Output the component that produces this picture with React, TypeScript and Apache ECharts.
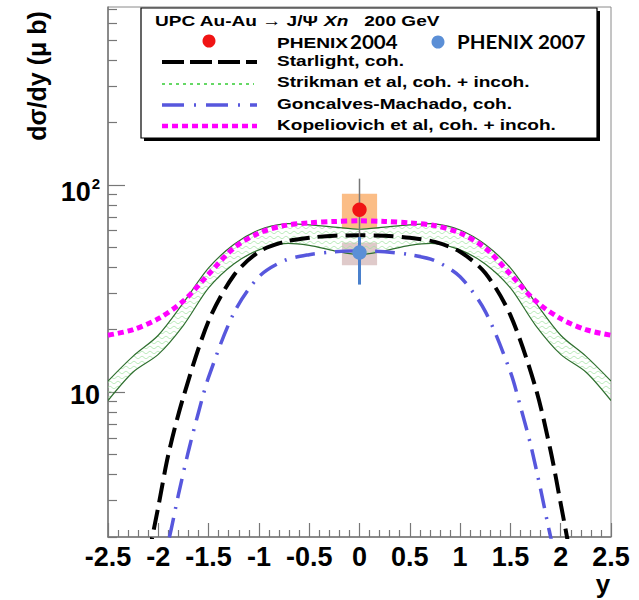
import React, { useEffect, useRef } from 'react';
import * as echarts from 'echarts';

// ---------- data ----------
const yMajorTicks = [10, 100];
const yMajorLabels = ['10', '10²'];
const yMinorTicks = [2, 3, 4, 5, 6, 7, 8, 9, 20, 30, 40, 50, 60, 70, 80, 90, 200, 300, 400, 500, 600, 700];

// Starlight, coh.
const starlightX = [-2.1, -2.0, -1.9, -1.75, -1.5, -1.25, -1.0, -0.75, -0.5, -0.25, 0, 0.25, 0.5, 0.75, 1.0, 1.25, 1.5, 1.75, 1.9, 2.0, 2.1];
const starlightY = [1.6, 2.8, 5.0, 9.5, 22, 36.5, 47.5, 53, 55.5, 56.8, 57, 56.8, 55.5, 53, 47.5, 37.5, 23.5, 10.5, 5.2, 2.9, 1.6];

// Goncalves-Machado, coh.
const goncX = [-2.0, -1.9, -1.8, -1.7, -1.6, -1.5, -1.25, -1.0, -0.75, -0.5, -0.25, 0, 0.25, 0.5, 0.75, 1.0, 1.25, 1.5, 1.6, 1.7, 1.8, 1.9, 2.0];
const goncY = [1.3, 1.9, 3.2, 5.2, 8.0, 11.8, 24, 36, 43, 46, 47.5, 48, 47.5, 46, 43, 36, 24.5, 12.5, 8.5, 5.6, 3.4, 2.0, 1.3];

// Kopeliovich et al, coh. + incoh.
const kopX = [-2.5, -2.25, -2.0, -1.75, -1.5, -1.25, -1.0, -0.75, -0.5, -0.25, 0, 0.25, 0.5, 0.75, 1.0, 1.25, 1.5, 1.75, 2.0, 2.25, 2.5];
const kopY = [18.8, 20.0, 22.6, 27.5, 37, 49.5, 58.5, 63.5, 65.5, 66.5, 67, 66.5, 65.5, 63.5, 58.5, 49.5, 37, 27.5, 22.6, 20.0, 18.8];

// Strikman et al, coh. + incoh. (band)
const bandX = [-2.5, -2.25, -2.0, -1.75, -1.5, -1.25, -1.0, -0.75, -0.5, -0.25, 0, 0.25, 0.5, 0.75, 1.0, 1.25, 1.5, 1.75, 2.0, 2.25, 2.5];
const bandUpper = [11.3, 14.9, 18.8, 27, 39.7, 51.5, 60.5, 64.8, 64, 62.5, 61, 62.5, 64, 64.8, 60.5, 51.5, 39.7, 27, 18.8, 14.9, 11.3];
const bandLower = [9.1, 12.5, 15.2, 21, 31.8, 41.5, 48.5, 52, 51, 48, 46, 48, 51, 52, 48.5, 41.5, 31.8, 21, 15.2, 12.5, 9.1];

// PHENIX data points
const expNames = ['PHENIX 2004', 'PHENIX 2007'];
const expX = [0, 0];
const expY = [75.8, 47.1];
const statLo = [52, 33];
const statHi = [107, 56];
const sysLo = [61.4, 40.9];
const sysHi = [90.6, 52.6];

// legend texts
const legendTitleA = 'UPC Au-Au → J/Ψ ';
const legendTitleB = 'Xn';
const legendTitleC = '   200 GeV';
const legendLines = ['Starlight, coh.', 'Strikman et al, coh. + incoh.', 'Goncalves-Machado, coh.', 'Kopeliovich et al, coh. + incoh.'];
const yTitle = 'dσ/dy (μ b)';
const xTitle = 'y';

// ---------- styles ----------
const AR = '"Liberation Sans", Arial, Helvetica, sans-serif';
const CAL = 'Lato, "Open Sans", sans-serif';
const AXC = '#777';
const pointColors = ['#f01414', '#5b8fd6'];
const barColors = ['#777777', '#4a80cc'];
const barWidths = [1.5, 3];
const boxColors = ['#fbbd86', '#dfcaca'];
const BOX_HW = 0.175;

export default function App() {
  const ref = useRef<HTMLDivElement>(null);
  useEffect(() => {
    const el = ref.current!;
    const chart = echarts.init(el, null, { renderer: 'svg' });

    const cv = document.createElement('canvas');
    cv.width = 8;
    cv.height = 5;
    const ctx = cv.getContext('2d')!;
    ctx.strokeStyle = '#9fe29f';
    ctx.lineWidth = 0.8;
    ctx.beginPath();
    for (let i = 0; i <= 16; i++) {
      const x = i * 0.5;
      const y = 2.5 + 1.1 * Math.sin((x / 8) * 2 * Math.PI);
      if (i === 0) ctx.moveTo(x, y);
      else ctx.lineTo(x, y);
    }
    ctx.stroke();
    const wave: any = { image: cv, repeat: 'repeat', imageWidth: 8, imageHeight: 5 };

    const legX = 277;
    const legYs = [61, 82, 104, 125];
    const lineYs = [62, 84, 105, 126];
    const txt = (text: string, x: number, y: number, extra: any = {}) => ({
      type: 'text',
      x,
      y,
      z: 102,
      scaleX: extra.scaleX ?? 1.23,
      style: {
        text,
        font: extra.font ?? `bold 15.5px ${AR}`,
        fill: '#000',
        align: 'left',
        verticalAlign: 'middle',
        textAlign: 'left',
        textVerticalAlign: 'middle',
        rich: extra.rich,
      },
    });

    const lab = { fontWeight: 'bold', fontFamily: AR, color: '#000' };

    const option: any = {
      animation: false,
      grid: { left: 108, right: 28, top: 7, bottom: 63, show: true, borderColor: '#8a8a8a', borderWidth: 1, outerBoundsMode: 'none' },
      xAxis: {
        type: 'value',
        min: -2.5,
        max: 2.5,
        interval: 0.5,
        axisLine: { show: true, onZero: false, lineStyle: { color: AXC, width: 1.5 } },
        axisTick: { show: true, inside: true, length: 14, lineStyle: { color: AXC, width: 1.2 } },
        minorTick: { show: true, splitNumber: 5, length: 7, lineStyle: { color: AXC, width: 1.2 } },
        splitLine: { show: false },
        axisLabel: { fontSize: 27, fontWeight: 'bold', fontFamily: AR, color: '#000', margin: 6 },
      },
      yAxis: [
        {
          type: 'log',
          logBase: 10,
          min: 2,
          max: 720,
          position: 'left',
          axisLine: { show: true, onZero: false, lineStyle: { color: AXC, width: 1.5 } },
          axisTick: { show: true, inside: true, length: 17, customValues: yMajorTicks, lineStyle: { color: AXC, width: 1.2 } },
          splitLine: { show: false },
          axisLabel: {
            customValues: yMajorTicks,
            margin: 8,
            formatter: (v: number) => {
              const idx = yMajorTicks.indexOf(Math.round(v));
              if (idx < 0) return '';
              const l = yMajorLabels[idx];
              if (l.endsWith('²')) return `{b|${l.slice(0, -1)}}{s|2}`;
              return `{c|${l}}`;
            },
            rich: {
              b: { ...lab, fontSize: 27, lineHeight: 27, padding: [15, 0, 0, 0] },
              s: { ...lab, fontSize: 15, lineHeight: 15, padding: [12, 0, 15, 1] },
              c: { ...lab, fontSize: 27, lineHeight: 27, padding: [6, 0, 0, 0] },
            },
          },
        },
        {
          type: 'log',
          logBase: 10,
          min: 2,
          max: 720,
          position: 'left',
          axisLine: { show: false, onZero: false },
          axisLabel: { show: false },
          splitLine: { show: false },
          axisTick: { show: true, inside: true, length: 9, customValues: yMinorTicks, lineStyle: { color: AXC, width: 1.2 } },
        },
      ],
      series: [
        {
          type: 'custom',
          name: 'sys',
          z: 1,
          clip: true,
          data: expX.map((x, i) => [x, expY[i], sysLo[i], sysHi[i]]),
          renderItem: (params: any, api: any) => {
            const i = params.dataIndex;
            const a = api.coord([api.value(0) - BOX_HW, api.value(3)]);
            const b = api.coord([api.value(0) + BOX_HW, api.value(2)]);
            return {
              type: 'rect',
              shape: { x: a[0], y: a[1], width: b[0] - a[0], height: b[1] - a[1] },
              style: { fill: boxColors[i] },
            };
          },
        },
        {
          type: 'custom',
          name: 'Strikman',
          z: 2,
          clip: true,
          data: [[0, 50]],
          renderItem: (_p: any, api: any) => {
            const up = bandX.map((x, i) => api.coord([x, bandUpper[i]]));
            const lo = bandX.map((x, i) => api.coord([x, bandLower[i]]));
            return {
              type: 'group',
              children: [
                { type: 'polygon', shape: { points: up.concat(lo.slice().reverse()) }, style: { fill: wave, stroke: 'none' } },
                { type: 'polyline', shape: { points: up, smooth: 0.3 }, style: { stroke: '#2f6f2f', lineWidth: 1.2, fill: 'none' } },
                { type: 'polyline', shape: { points: lo, smooth: 0.3 }, style: { stroke: '#2f6f2f', lineWidth: 1.2, fill: 'none' } },
              ],
            };
          },
        },
        {
          type: 'line',
          name: 'Starlight',
          z: 4,
          yAxisIndex: 0,
          data: starlightX.map((x, i) => [x, starlightY[i]]),
          showSymbol: false,
          smooth: 0.3,
          lineStyle: { color: '#000', width: 4, type: [20, 8] },
        },
        {
          type: 'line',
          name: 'Goncalves',
          z: 3,
          data: goncX.map((x, i) => [x, goncY[i]]),
          showSymbol: false,
          smooth: 0.3,
          lineStyle: { color: '#5757dd', width: 3.5, type: [20, 9, 2, 9] },
        },
        {
          type: 'line',
          name: 'Kopeliovich',
          z: 5,
          data: kopX.map((x, i) => [x, kopY[i]]),
          showSymbol: false,
          smooth: 0.3,
          lineStyle: { color: '#ff00ff', width: 5, type: [6, 4] },
        },
        {
          type: 'custom',
          name: 'PHENIX',
          z: 6,
          data: expX.map((x, i) => [x, expY[i], statLo[i], statHi[i]]),
          renderItem: (params: any, api: any) => {
            const i = params.dataIndex;
            const c = api.coord([api.value(0), api.value(1)]);
            const lo = api.coord([api.value(0), api.value(2)]);
            const hi = api.coord([api.value(0), api.value(3)]);
            return {
              type: 'group',
              children: [
                { type: 'line', shape: { x1: c[0], y1: lo[1], x2: c[0], y2: hi[1] }, style: { stroke: barColors[i], lineWidth: barWidths[i] } },
                { type: 'circle', shape: { cx: c[0], cy: c[1], r: 7.2 }, style: { fill: pointColors[i] } },
              ],
            };
          },
        },
      ],
      graphic: [
        { type: 'rect', z: 100, shape: { x: 144, y: 11, width: 456, height: 130 }, style: { fill: '#000' } },
        { type: 'rect', z: 101, shape: { x: 141, y: 8, width: 456, height: 130 }, style: { fill: '#fff', stroke: '#000', lineWidth: 1.2 } },
        txt(`{a|${legendTitleA}}{i|${legendTitleB}}{a|${legendTitleC}}`, 155, 21, {
          rich: {
            a: { font: `bold 15.5px ${AR}`, fill: '#000' },
            i: { font: `italic bold 15.5px ${AR}`, fill: '#000' },
          },
        }),
        { type: 'circle', z: 102, shape: { cx: 209, cy: 41, r: 6.5 }, style: { fill: pointColors[0] } },
        txt(expNames[0].split(' ')[0], legX, 43),
        txt(expNames[0].split(' ')[1], 350, 41, { font: `bold 19px ${CAL}`, scaleX: 1.08 }),
        { type: 'circle', z: 102, shape: { cx: 438, cy: 42, r: 6.5 }, style: { fill: pointColors[1] } },
        txt(expNames[1], 457, 41, { font: `bold 19px ${CAL}`, scaleX: 1.08 }),
        { type: 'line', z: 102, shape: { x1: 162, y1: lineYs[0], x2: 257, y2: lineYs[0] }, style: { stroke: '#000', lineWidth: 4, lineDash: [22, 6] } },
        { type: 'line', z: 102, shape: { x1: 162, y1: lineYs[1], x2: 254, y2: lineYs[1] }, style: { stroke: '#33cc33', lineWidth: 1.3, lineDash: [3, 4] } },
        { type: 'line', z: 102, shape: { x1: 162, y1: lineYs[2], x2: 257, y2: lineYs[2] }, style: { stroke: '#5757dd', lineWidth: 3.5, lineDash: [22, 10, 2, 10] } },
        { type: 'line', z: 102, shape: { x1: 162, y1: lineYs[3], x2: 257, y2: lineYs[3] }, style: { stroke: '#ff00ff', lineWidth: 4.5, lineDash: [6, 4] } },
        ...legendLines.map((t, i) => txt(t, legX, legYs[i])),
        {
          type: 'text',
          z: 102,
          x: 37,
          y: 76,
          rotation: Math.PI / 2,
          style: { text: yTitle, font: `bold 25px ${AR}`, fill: '#000', align: 'center', verticalAlign: 'middle', textAlign: 'center', textVerticalAlign: 'middle' },
        },
        {
          type: 'text',
          z: 102,
          x: 603,
          y: 584,
          style: { text: xTitle, font: `bold 26px ${AR}`, lineHeight: 23, fill: '#000', align: 'center', verticalAlign: 'middle', textAlign: 'center', textVerticalAlign: 'middle' },
        },
      ],
    };
    chart.setOption(option);
    return () => chart.dispose();
  }, []);
  return <div ref={ref} style={{ position: 'absolute', left: 0, top: 0, width: 639, height: 600 }} />;
}
